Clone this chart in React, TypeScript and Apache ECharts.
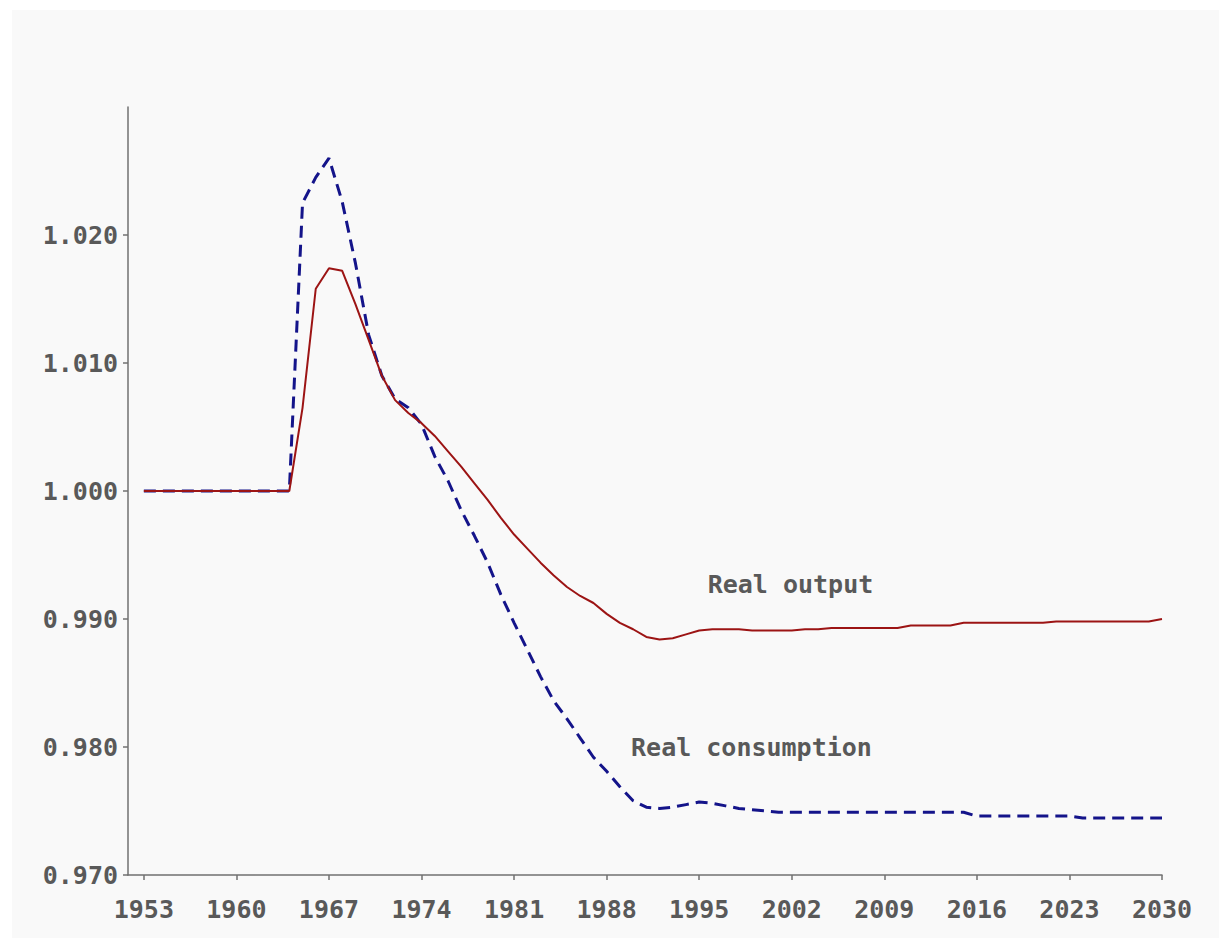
import React, { useEffect, useRef } from "react";
import * as echarts from "echarts";

const years: number[] = [];
for (let y = 1953; y <= 2030; y++) years.push(y);

const tickYears = [1953, 1960, 1967, 1974, 1981, 1988, 1995, 2002, 2009, 2016, 2023, 2030];
const yTicks = [0.97, 0.98, 0.99, 1.0, 1.01, 1.02];

// Real output, 1953..2030
const realOutput = [
  1.0, 1.0, 1.0, 1.0, 1.0, 1.0, 1.0, 1.0, 1.0, 1.0, 1.0, 1.0, // 1953-1964
  1.0065, 1.0158, 1.0174, 1.0172, 1.0146, 1.0118, 1.0090, 1.0071, 1.0061, 1.0053, // 1965-1974
  1.0043, 1.0031, 1.0019, 1.0006, 0.9993, 0.9979, 0.9966, 0.9955, 0.9944, 0.9934, // 1975-1984
  0.9925, 0.9918, 0.99125, 0.9904, 0.9897, 0.9892, 0.9886, 0.9884, 0.9885, 0.9888, // 1985-1994
  0.9891, 0.9892, 0.9892, 0.9892, 0.9891, 0.9891, 0.9891, 0.9891, 0.9892, 0.9892, // 1995-2004
  0.9893, 0.9893, 0.9893, 0.9893, 0.9893, 0.9893, 0.9895, 0.9895, 0.9895, 0.9895, // 2005-2014
  0.9897, 0.9897, 0.9897, 0.9897, 0.9897, 0.9897, 0.9897, 0.9898, 0.9898, 0.9898, // 2015-2024
  0.9898, 0.9898, 0.9898, 0.9898, 0.9898, 0.99, // 2025-2030
];

// Real consumption, 1953..2030
const realConsumption = [
  1.0, 1.0, 1.0, 1.0, 1.0, 1.0, 1.0, 1.0, 1.0, 1.0, 1.0, 1.0, // 1953-1964
  1.0225, 1.0245, 1.026, 1.0226, 1.0178, 1.0122, 1.009, 1.0072, 1.0065, 1.0052, // 1965-1974
  1.0027, 1.0008, 0.9985, 0.9965, 0.9944, 0.9919, 0.9897, 0.9876, 0.9855, 0.9836, // 1975-1984
  0.9822, 0.9807, 0.9792, 0.9781, 0.9769, 0.9758, 0.9753, 0.9752, 0.9753, 0.9755, // 1985-1994
  0.9757, 0.9756, 0.9754, 0.9752, 0.9751, 0.975, 0.9749, 0.9749, 0.9749, 0.9749, // 1995-2004
  0.9749, 0.9749, 0.9749, 0.9749, 0.9749, 0.9749, 0.9749, 0.9749, 0.9749, 0.9749, // 2005-2014
  0.9749, 0.9746, 0.9746, 0.9746, 0.9746, 0.9746, 0.9746, 0.9746, 0.9746, 0.97445, // 2015-2024
  0.97445, 0.97445, 0.97445, 0.97445, 0.97445, 0.97445, // 2025-2030
];

const FONT = "'DejaVu Sans Mono', 'Liberation Mono', monospace";
const TEXT = "#595959";
const AXIS = "#707070";

const textStyle = {
  color: TEXT,
  fontFamily: FONT,
  fontSize: 25,
  fontWeight: "bold" as const,
};

export default function App() {
  const ref = useRef<HTMLDivElement>(null);
  useEffect(() => {
    if (!ref.current) return;
    const chart = echarts.init(ref.current, undefined, { renderer: "svg" });
    chart.setOption({
      animation: false,
      backgroundColor: "#ffffff",
      graphic: [
        {
          type: "rect",
          z: -10,
          silent: true,
          shape: { x: 12, y: 10, width: 1207, height: 928 },
          style: { fill: "#f9f9f9" },
        },
      ],
      grid: { left: 128, right: 69, top: 107, bottom: 73 },
      xAxis: {
        type: "value",
        min: 1951.8,
        max: 2030,
        splitLine: { show: false },
        axisLine: { show: true, lineStyle: { color: AXIS, width: 1.5 } },
        axisTick: { show: true, length: 5, customValues: tickYears, lineStyle: { color: AXIS, width: 1.5 } },
        axisLabel: {
          customValues: tickYears,
          margin: 22,
          ...textStyle,
          formatter: (v: number) => String(Math.round(v)),
        },
      },
      yAxis: {
        type: "value",
        min: 0.97,
        max: 1.03,
        splitLine: { show: false },
        axisLine: { show: true, lineStyle: { color: AXIS, width: 1.5 } },
        axisTick: { show: true, length: 5, customValues: yTicks, lineStyle: { color: AXIS, width: 1.5 } },
        axisLabel: {
          customValues: yTicks,
          margin: 10,
          ...textStyle,
          formatter: (v: number) => v.toFixed(3),
        },
      },
      series: [
        {
          name: "Real output",
          type: "line",
          data: years.map((y, i) => [y, realOutput[i]]),
          showSymbol: false,
          z: 3,
          lineStyle: { color: "#9c1414", width: 2 },
          markPoint: {
            symbol: "circle",
            symbolSize: 0,
            data: [
              {
                coord: [2001.9, 0.99266],
                label: { show: true, position: "inside", formatter: "Real output", ...textStyle },
              },
            ],
          },
        },
        {
          name: "Real consumption",
          type: "line",
          data: years.map((y, i) => [y, realConsumption[i]]),
          showSymbol: false,
          z: 2,
          lineStyle: { color: "#14148a", width: 3, type: [12, 7] },
          markPoint: {
            symbol: "circle",
            symbolSize: 0,
            data: [
              {
                coord: [1998.95, 0.98],
                label: { show: true, position: "inside", formatter: "Real consumption", ...textStyle },
              },
            ],
          },
        },
      ],
    });
    return () => chart.dispose();
  }, []);
  return (
    <div
      ref={ref}
      style={{ position: "absolute", left: 0, top: 0, width: 1231, height: 948 }}
    />
  );
}
